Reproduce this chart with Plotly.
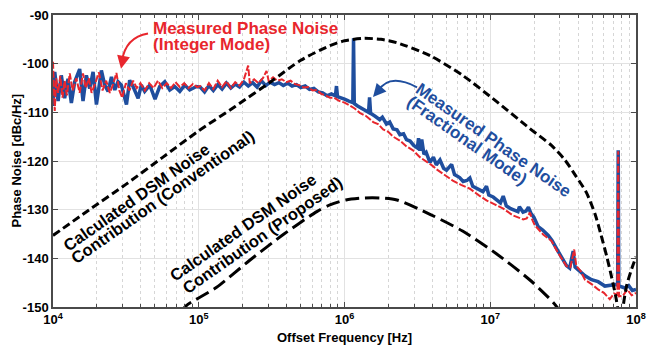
import numpy as np
import plotly.graph_objects as go

# ---------------- data ----------------
# offset frequency as decade exponent (10**exp Hz), phase noise in dBc/Hz
blue_exp = [4.000, 4.012, 4.035, 4.057, 4.080, 4.103, 4.126, 4.149, 4.183, 4.206, 4.229, 4.252, 4.275,
            4.298, 4.332, 4.355, 4.378, 4.401, 4.424, 4.446, 4.469, 4.504, 4.526, 4.549, 4.584, 4.606,
            4.629, 4.664, 4.700, 4.732, 4.767, 4.801, 4.835, 4.870, 4.904, 4.938, 4.984,
            5.010, 5.040, 5.070, 5.100, 5.130, 5.160, 5.190, 5.220, 5.250, 5.280, 5.310, 5.340, 5.370,
            5.400, 5.430, 5.460, 5.490, 5.520, 5.550, 5.580, 5.610, 5.640, 5.670, 5.700, 5.730, 5.760,
            5.790, 5.820, 5.850, 5.880, 5.910, 5.938, 5.945, 5.952, 5.980,
            6.000, 6.030, 6.057, 6.062, 6.067, 6.090, 6.128, 6.160, 6.165, 6.172, 6.179, 6.210, 6.242,
            6.260, 6.288, 6.310, 6.334, 6.360, 6.380, 6.405, 6.425, 6.450, 6.475, 6.500, 6.508, 6.517,
            6.530, 6.545, 6.560, 6.586, 6.610, 6.630, 6.655, 6.680, 6.700, 6.735, 6.755, 6.790, 6.814,
            6.840, 6.860, 6.880, 6.920, 6.950, 6.974, 6.990, 7.020, 7.043, 7.070, 7.089, 7.110, 7.140,
            7.160, 7.190, 7.200, 7.225, 7.245, 7.262, 7.280, 7.300, 7.329, 7.360, 7.398, 7.425, 7.455,
            7.489, 7.523, 7.545, 7.556, 7.569, 7.582, 7.615, 7.650, 7.695, 7.740, 7.787, 7.830, 7.860,
            7.874, 7.878, 7.882, 7.895, 7.924, 7.950, 7.975, 8.000]
blue_db = [-108.7, -101.7, -107.7, -102.4, -107.1, -103.1, -108.1, -103.7, -101.1, -107.7, -102.4, -105.1, -101.7,
           -108.4, -101.4, -104.4, -105.7, -102.7, -105.4, -103.7, -104.4, -108.4, -103.4, -104.7, -107.1, -104.4,
           -105.7, -104.4, -107.3, -104.7, -103.7, -105.4, -104.7, -105.7, -104.4, -105.4, -104.7,
           -104.8, -105.8, -104.5, -105.5, -104.3, -105.2, -104.0, -105.0, -104.2, -104.8, -103.8, -104.6, -103.9,
           -104.8, -103.5, -104.5, -103.8, -104.3, -103.9, -104.5, -104.0, -104.6, -104.3, -104.9, -104.6, -105.3,
           -105.1, -105.8, -106.0, -106.6, -106.2, -106.6, -104.6, -106.8, -107.0,
           -107.3, -107.7, -108.0, -94.8, -108.2, -108.7, -109.4, -109.9, -110.0, -106.9, -110.2, -110.8, -111.5,
           -111.0, -112.4, -112.0, -113.4, -113.6, -114.6, -114.4, -115.6, -115.9, -116.8, -117.3, -115.3, -117.9,
           -115.6, -118.6, -118.2, -120.3, -119.2, -120.8, -119.8, -121.5, -121.9, -120.7, -122.8, -123.4, -124.2,
           -124.0, -123.5, -125.2, -125.8, -126.3, -125.2, -127.0, -127.4, -127.9, -128.6, -127.2, -129.2, -129.8,
           -130.1, -130.4, -129.4, -130.5, -130.3, -129.5, -130.8, -131.6, -133.5, -134.2, -135.3, -136.4, -138.0,
           -139.7, -141.5, -142.0, -140.5, -138.5, -141.8, -142.7, -143.6, -144.4, -144.8, -145.7, -145.5, -145.4,
           -145.5, -117.8, -145.8, -145.8, -146.1, -145.6, -146.6, -146.4]

red_exp = [4.000, 4.012, 4.022, 4.035, 4.050, 4.065, 4.080, 4.095, 4.115, 4.135, 4.160, 4.183, 4.206,
           4.225, 4.245, 4.265, 4.290, 4.315, 4.340, 4.365, 4.390, 4.415, 4.435, 4.455, 4.475, 4.500,
           4.525, 4.550, 4.575, 4.600, 4.630, 4.660, 4.690, 4.720, 4.750, 4.780, 4.810, 4.840, 4.870,
           4.900, 4.930, 4.960, 4.990,
           5.010, 5.040, 5.070, 5.100, 5.130, 5.160, 5.190, 5.220, 5.250, 5.280, 5.310, 5.339, 5.350,
           5.380, 5.410, 5.440, 5.465, 5.480, 5.510, 5.540, 5.570, 5.600, 5.630, 5.660, 5.690, 5.720,
           5.750, 5.780, 5.810, 5.840, 5.870, 5.900, 5.930, 5.960, 6.000,
           6.037, 6.070, 6.105, 6.150, 6.197, 6.230, 6.265, 6.300, 6.334, 6.380, 6.425, 6.470, 6.517,
           6.560, 6.600, 6.631, 6.680, 6.746, 6.800, 6.860, 6.920, 6.974, 7.030, 7.090, 7.157, 7.200,
           7.226, 7.250, 7.272, 7.290, 7.306, 7.363, 7.420, 7.460, 7.523, 7.550, 7.563, 7.576, 7.590,
           7.620, 7.650, 7.700, 7.740, 7.780, 7.820, 7.850, 7.872, 7.878, 7.884, 7.910, 7.940, 7.970, 8.000]
red_db = [-99.6, -109.7, -103.0, -106.0, -102.5, -107.0, -103.5, -106.5, -102.0, -105.5, -103.0, -106.0, -102.0,
          -105.0, -103.0, -106.0, -104.0, -101.8, -105.5, -103.5, -106.0, -104.0, -101.9, -105.5, -107.0, -104.0,
          -105.5, -103.5, -105.0, -104.0, -105.5, -104.0, -105.0, -103.5, -105.0, -104.0, -105.0, -103.8, -104.8,
          -104.0, -105.0, -104.2, -104.8,
          -104.6, -105.5, -104.0, -105.2, -103.5, -104.8, -103.6, -105.0, -103.8, -104.5, -103.2, -100.4, -104.0,
          -103.2, -104.0, -103.0, -101.5, -103.6, -102.8, -103.5, -103.2, -103.8, -103.5, -104.2, -104.4, -104.9,
          -104.8, -105.5, -105.4, -106.2, -106.5, -107.0, -107.0, -107.6, -108.0,
          -108.6, -109.2, -110.1, -110.8, -112.0, -112.4, -113.5, -114.0, -115.0, -115.8, -117.0, -117.8, -119.2,
          -120.0, -120.9, -121.7, -122.8, -124.1, -124.9, -125.7, -127.0, -128.1, -128.9, -129.8, -131.2, -131.7,
          -132.0, -131.8, -130.6, -132.2, -133.2, -135.1, -136.4, -138.6, -141.6, -141.8, -140.0, -138.2, -141.5,
          -142.6, -144.4, -145.4, -146.4, -147.1, -148.4, -147.2, -147.5, -118.0, -147.8, -147.7, -146.4, -147.6, -147.1]

conv_exp = [4.00, 4.25, 4.50, 4.75, 5.00, 5.25, 5.50, 5.70, 5.90, 6.00, 6.13, 6.25, 6.36, 6.59, 6.81,
            7.04, 7.27, 7.42, 7.51, 7.59, 7.66, 7.72, 7.76, 7.80, 7.83, 7.86, 7.875, 7.89, 7.90, 7.912,
            7.935, 7.97, 8.00]
conv_db = [-135.3, -130.0, -124.8, -119.3, -113.8, -108.8, -103.6, -99.3, -96.3, -95.3, -94.8, -95.0, -95.7,
           -98.4, -102.4, -107.7, -113.3, -116.8, -119.7, -123.2, -126.5, -131.0, -135.2, -139.7, -143.5,
           -147.7, -150.5, -158.0, -158.0, -150.0, -145.7, -142.2, -139.7]

prop_exp = [4.88, 4.915, 5.12, 5.35, 5.58, 5.81, 5.90, 6.01, 6.13, 6.25, 6.36, 6.59, 6.81, 7.04, 7.27,
            7.43, 7.47]
prop_db = [-151.0, -149.7, -146.0, -140.4, -135.1, -130.4, -129.0, -128.0, -127.6, -127.6, -128.0,
           -131.0, -134.4, -139.0, -144.4, -149.0, -150.5]

x_tick_vals = [1e4, 1e5, 1e6, 1e7, 1e8]
x_tick_text = ["10<sup>4</sup>", "10<sup>5</sup>", "10<sup>6</sup>", "10<sup>7</sup>", "10<sup>8</sup>"]
y_tick_vals = [-150, -140, -130, -120, -110, -100, -90]
y_tick_text = ["-150", "-140", "-130", "-120", "-110", "-100", "-90"]

# ---------------- styling ----------------
RED = "#e8262d"
BLUE = "#1f4e9e"
FONT = "Liberation Sans, Arial, Helvetica, sans-serif"
W, H = 667, 352
L, R, T, B = 53, 31, 8, 45
PW, PH = W - L - R, H - T - B


def P(px, py):
    return (px - L) / PW, (H - B - py) / PH


fig = go.Figure()
fig.add_trace(go.Scatter(x=10 ** np.array(blue_exp), y=blue_db, mode="lines",
                         line=dict(color=BLUE, width=3.5), hoverinfo="skip"))
fig.add_trace(go.Scatter(x=10 ** np.array(red_exp), y=red_db, mode="lines",
                         line=dict(color=RED, width=2, dash="7px,2px"), hoverinfo="skip"))
fig.add_trace(go.Scatter(x=10 ** np.array(conv_exp), y=conv_db, mode="lines",
                         line=dict(color="black", width=3, dash="8px,4px", shape="spline", smoothing=0.7),
                         hoverinfo="skip"))
fig.add_trace(go.Scatter(x=10 ** np.array(prop_exp), y=prop_db, mode="lines",
                         line=dict(color="black", width=3, dash="14px,6px", shape="spline", smoothing=0.7),
                         hoverinfo="skip"))

minor_vals = [m * 10 ** e for e in range(4, 8) for m in range(2, 10)]
axis_common = dict(showline=True, linecolor="#4a4a4a", linewidth=1.5, mirror="allticks",
                   ticks="inside", tickcolor="#4a4a4a", ticklen=5, zeroline=False,
                   tickfont=dict(family=FONT, size=13, color="black", weight="bold"))
fig.update_xaxes(type="log", range=[4, 8], tickmode="array", tickvals=x_tick_vals, ticktext=x_tick_text,
                 showgrid=True, gridcolor="#e2e2e2", gridwidth=1,
                 minor=dict(tickmode="array", tickvals=minor_vals, ticks="inside", ticklen=3,
                            tickcolor="#4a4a4a", showgrid=True, gridcolor="#d6d6d6", griddash="dot"),
                 **axis_common)
fig.update_yaxes(range=[-150, -90], tickmode="array", tickvals=y_tick_vals, ticktext=y_tick_text,
                 showgrid=True, gridcolor="#e2e2e2", gridwidth=1, **axis_common)

ann = []
texts = [
    ("Measured Phase Noise", 151, 21.5, 0, RED, "left", 17),
    ("(Integer Mode)", 151, 38, 0, RED, "left", 17),
    ("Measured Phase Noise", 493.8, 136.1, 35, BLUE, "center", 17),
    ("(Fractional Mode)", 466.8, 136.7, 35, BLUE, "center", 17),
    ("Calculated DSM Noise", 136.3, 194, -35, "black", "center", 16.5),
    ("Contribution (Conventional)", 162.3, 194.1, -35, "black", "center", 16.5),
    ("Calculated DSM Noise", 243.3, 225.5, -35, "black", "center", 16.5),
    ("Contribution (Proposed)", 262.1, 233.2, -35, "black", "center", 16.5),
]
for txt, px, py, ang, col, xa, fs in texts:
    x, y = P(px, py)
    ann.append(dict(text=txt, x=x, y=y, xref="paper", yref="paper", showarrow=False, textangle=ang,
                    xanchor=xa, yanchor="middle",
                    font=dict(family=FONT, size=fs, color=col, weight="bold")))

x, y = P(344.5, 338)
ann.append(dict(text="Offset Frequency [Hz]", x=x, y=y, xref="paper", yref="paper", showarrow=False,
                xanchor="center", yanchor="middle", font=dict(family=FONT, size=13, color="black", weight="bold")))
x, y = P(17, 157)
ann.append(dict(text="Phase Noise [dBc/Hz]", x=x, y=y, xref="paper", yref="paper", showarrow=False,
                textangle=-90, xanchor="center", yanchor="middle",
                font=dict(family=FONT, size=13, color="black", weight="bold")))

for (tx, ty, ax, ay, col) in [(121, 63, 2, -10, RED), (373, 92, 7, -8, BLUE)]:
    x, y = P(tx, ty)
    ann.append(dict(x=x, y=y, xref="paper", yref="paper", ax=ax, ay=ay, axref="pixel", ayref="pixel",
                    text="", showarrow=True, arrowhead=2, arrowsize=1.3, arrowwidth=2, arrowcolor=col))

shapes = []
for (p0, c, p2, col) in [((148, 27), (125.5, 31), (122, 55), RED), ((417, 82), (389, 67), (378, 86), BLUE)]:
    a = P(*p0)
    b = P(*c)
    d = P(*p2)
    shapes.append(dict(type="path", xref="paper", yref="paper",
                       path=f"M {a[0]:.4f} {a[1]:.4f} Q {b[0]:.4f} {b[1]:.4f} {d[0]:.4f} {d[1]:.4f}",
                       line=dict(color=col, width=2)))

fig.update_layout(width=W, height=H, margin=dict(l=L, r=R, t=T, b=B), showlegend=False,
                  plot_bgcolor="white", paper_bgcolor="white", annotations=ann, shapes=shapes,
                  font=dict(family=FONT), hovermode=False)
fig.write_html("out.html", config={"displayModeBar": False},
               post_script="document.body.style.margin='0px';document.body.style.padding='0px';")
